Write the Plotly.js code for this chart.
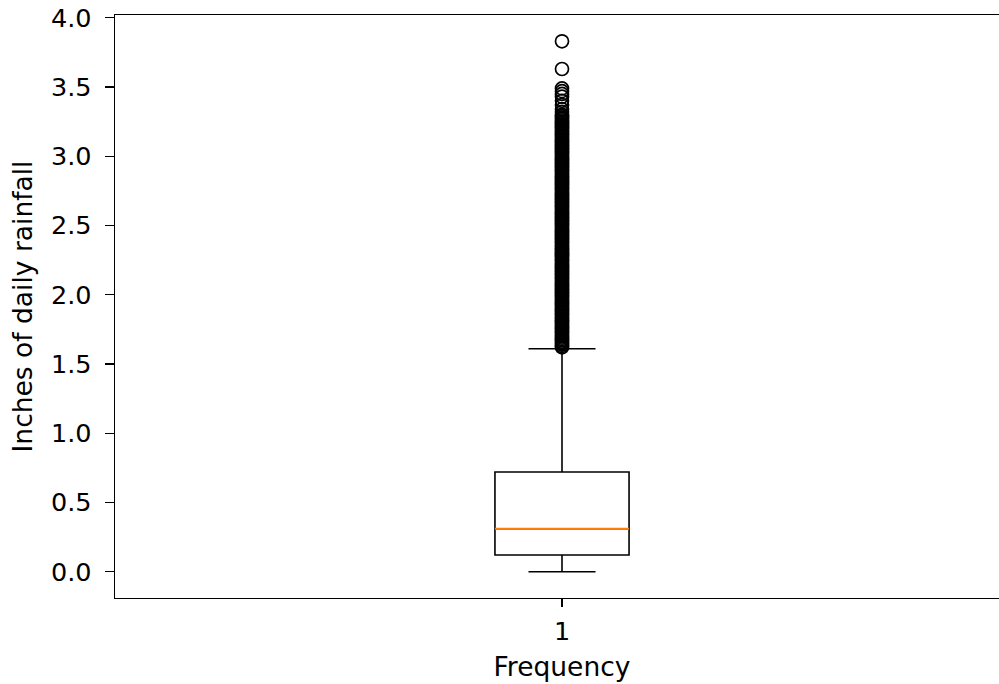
<!DOCTYPE html>
<html>
<head>
<meta charset="utf-8">
<script src="https://cdn.plot.ly/plotly-3.0.1.min.js"></script>
<style>
html, body { margin: 0; padding: 0; background: #fff; overflow: hidden; width: 999px; height: 684px; }
#chart { width: 1010px; height: 684px; }
</style>
</head>
<body>
<div id="chart"></div>
<script>
// Box statistics (inches of daily rainfall)
const category = 1;
const categoryLabel = "1";
const q1 = 0.12;
const median = 0.31;
const q3 = 0.72;
const lowerWhisker = 0.0;
const upperWhisker = 1.61;

// Outliers above the upper whisker (rainfall recorded to 0.01 in)
const outliers = [
  1.62,1.63,1.64,1.65,1.66,1.67,1.68,1.69,1.70,
  1.71,1.72,1.73,1.74,1.75,1.76,1.77,1.78,1.79,1.80,
  1.81,1.82,1.83,1.84,1.85,1.86,1.87,1.88,1.89,1.90,
  1.91,1.92,1.93,1.94,1.95,1.96,1.97,1.98,1.99,2.00,
  2.01,2.02,2.03,2.04,2.05,2.06,2.07,2.08,2.09,2.10,
  2.11,2.12,2.13,2.14,2.15,2.16,2.17,2.18,2.19,2.20,
  2.21,2.22,2.23,2.24,2.25,2.26,2.27,2.28,2.29,2.30,
  2.31,2.32,2.33,2.34,2.35,2.36,2.37,2.38,2.39,2.40,
  2.41,2.42,2.43,2.44,2.45,2.46,2.47,2.48,2.49,2.50,
  2.51,2.52,2.53,2.54,2.55,2.56,2.57,2.58,2.59,2.60,
  2.61,2.62,2.63,2.64,2.65,2.66,2.67,2.68,2.69,2.70,
  2.71,2.72,2.73,2.74,2.75,2.76,2.77,2.78,2.79,2.80,
  2.81,2.82,2.83,2.84,2.85,2.86,2.87,2.88,2.89,2.90,
  2.91,2.92,2.93,2.94,2.95,2.96,2.97,2.98,2.99,3.00,
  3.01,3.02,3.03,3.04,3.05,3.06,3.07,3.08,3.09,3.10,
  3.11,3.12,3.13,3.14,3.15,3.16,3.17,3.18,3.19,3.20,
  3.21,3.22,3.23,3.24,3.25,3.26,3.27,3.28,3.29,3.30,
  3.32,3.34,3.37,3.40,3.43,3.45,3.47,3.49,3.63,3.83
];

const yTickVals = [0.0, 0.5, 1.0, 1.5, 2.0, 2.5, 3.0, 3.5, 4.0];
const yTickText = ["0.0", "0.5", "1.0", "1.5", "2.0", "2.5", "3.0", "3.5", "4.0"];

const boxWidth = 0.15;
const font = { family: "DejaVu Sans", size: 25.5, color: "#000" };
const titleFont = { family: "DejaVu Sans", size: 26.5, color: "#000" };

const traces = [
  {
    type: "box",
    x: [category],
    q1: [q1], median: [median], q3: [q3],
    lowerfence: [lowerWhisker], upperfence: [upperWhisker],
    width: boxWidth,
    whiskerwidth: 0.5,
    boxpoints: false,
    fillcolor: "rgba(255,255,255,0)",
    line: { color: "#000", width: 1.6 },
    hoverinfo: "skip",
    showlegend: false
  },
  {
    type: "scatter",
    mode: "lines",
    x: [category - boxWidth / 2, category + boxWidth / 2],
    y: [median, median],
    line: { color: "#ff7f0e", width: 1.8 },
    hoverinfo: "skip",
    showlegend: false
  },
  {
    type: "scatter",
    mode: "markers",
    x: outliers.map(() => category),
    y: outliers,
    marker: { symbol: "circle-open", size: 13, color: "#000", line: { width: 1.7, color: "#000" } },
    hoverinfo: "skip",
    showlegend: false
  }
];

const layout = {
  width: 1010,
  height: 684,
  margin: { l: 115, r: 1, t: 15, b: 86 },
  paper_bgcolor: "#fff",
  plot_bgcolor: "#fff",
  font: font,
  showlegend: false,
  xaxis: {
    type: "linear",
    range: [0.5, 1.5],
    tickmode: "array",
    tickvals: [category],
    ticktext: [categoryLabel],
    ticks: "outside",
    ticklen: 8,
    tickwidth: 1.3,
    tickcolor: "#000",
    showline: true,
    linecolor: "#000",
    linewidth: 1.3,
    mirror: true,
    showgrid: false,
    zeroline: false,
    tickfont: font,
    ticklabelstandoff: 2,
    title: { text: "Frequency", font: titleFont, standoff: 12 },
    automargin: false
  },
  yaxis: {
    range: [-0.19, 4.02],
    tickmode: "array",
    tickvals: yTickVals,
    ticktext: yTickText,
    ticks: "outside",
    ticklen: 9,
    tickwidth: 1.3,
    tickcolor: "#000",
    showline: true,
    linecolor: "#000",
    linewidth: 1.3,
    mirror: true,
    showgrid: false,
    zeroline: false,
    tickfont: font,
    ticklabelstandoff: 8,
    title: { text: "Inches of daily rainfall", font: titleFont, standoff: 10 },
    automargin: false
  }
};

Plotly.newPlot("chart", traces, layout, { displayModeBar: false, staticPlot: true });
</script>
</body>
</html>
